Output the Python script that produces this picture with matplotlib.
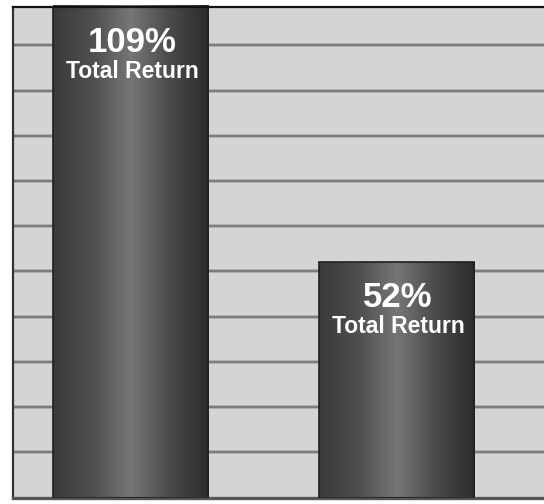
import matplotlib
matplotlib.use("Agg")
import matplotlib.pyplot as plt
import numpy as np
from matplotlib.colors import LinearSegmentedColormap


# total return for each bar, in percent
returns = [109, 52]
value_labels = ["109%", "52%"]
sub_label = "Total Return"
grid_levels = [10, 20, 30, 40, 50, 60, 70, 80, 90, 100]

BG = "#d4d4d4"
GRID = "#7c7c7c"

# cylinder-like shading across each bar: dark edges, light centre
shade = LinearSegmentedColormap.from_list(
    "cyl",
    [(0.0, "#3a3a3a"), (0.25, "#4e4e4e"), (0.5, "#767676"),
     (0.75, "#4a4a4a"), (1.0, "#2c2c2c")],
)


def main():
    fig = plt.figure(figsize=(5.44, 5.04), dpi=100)
    ax = fig.add_axes([13 / 544, 1 - 497.5 / 504, 1 - 13 / 544, (497.5 - 7) / 504])
    ax.set_facecolor(BG)

    x = np.arange(len(returns))
    bars = ax.bar(x, returns, width=0.584, color="none",
                  edgecolor="#202020", linewidth=1.2, zorder=3)

    ax.set_xlim(-0.4426, 1.557)
    ax.set_ylim(0, 108.5)

    for level in grid_levels:
        ax.axhline(level, color="#a8a8a8", linewidth=2.6, zorder=1)
        ax.axhline(level, color=GRID, linewidth=1.4, zorder=1)

    grad = np.linspace(0, 1, 256).reshape(1, -1)
    for bar in bars:
        x0, y0 = bar.get_x(), bar.get_y()
        w, h = bar.get_width(), bar.get_height()
        im = ax.imshow(grad, cmap=shade, aspect="auto",
                       extent=(x0, x0 + w, y0, y0 + h), zorder=2,
                       interpolation="bicubic")
        im.set_clip_path(bar)

    for xi, val, lab in zip(x, returns, value_labels):
        top = min(val, ax.get_ylim()[1])
        ax.annotate(lab, (xi, top), xytext=(2, -45), textcoords="offset pixels",
                    ha="center", va="baseline", color="white",
                    fontsize=25, fontweight="bold", family="Liberation Sans",
                    zorder=4)
        ax.annotate(sub_label, (xi, top), xytext=(2, -71), textcoords="offset pixels",
                    ha="center", va="baseline", color="white",
                    fontsize=16.5, fontweight="bold", family="Liberation Sans",
                    zorder=4)

    ax.set_xticks([])
    ax.set_yticks([])
    ax.spines["right"].set_visible(False)
    ax.spines["left"].set_color("#333333")
    ax.spines["left"].set_linewidth(1.6)
    ax.spines["top"].set_color("#111111")
    ax.spines["top"].set_linewidth(1.6)
    ax.spines["bottom"].set_color("#555555")
    ax.spines["bottom"].set_linewidth(2.4)

    fig.savefig("out.png", dpi=100, facecolor="white")
    plt.close(fig)


if __name__ == "__main__":
    main()
